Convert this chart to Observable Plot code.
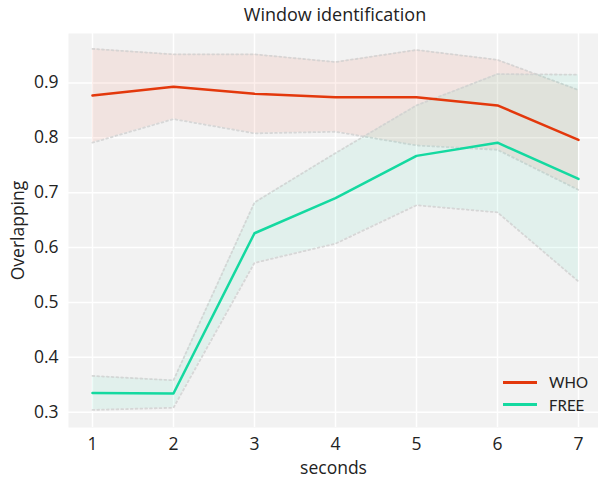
<!DOCTYPE html>
<html><head><meta charset="utf-8">
<script src="https://cdn.jsdelivr.net/npm/d3@7"></script>
<script src="https://cdn.jsdelivr.net/npm/@observablehq/plot@0.6"></script>
<style>
body{margin:0;background:#fff;font-family:"Open Sans",sans-serif;}
#wrap{position:relative;width:598px;height:479px;overflow:hidden;}
#title{position:absolute;left:68px;width:534px;top:2px;text-align:center;font-size:18px;color:#222;}
#chart{position:absolute;left:0;top:33px;}
#chart svg text{font-size:17.5px;}
#legend{position:absolute;left:503px;top:371px;font-family:Lato,sans-serif;font-size:15px;color:#222;}
#legend div{display:flex;align-items:center;height:22.5px;}
#legend span.sw{display:inline-block;width:34px;height:3px;margin-right:12px;}
</style></head>
<body>
<div id="wrap">
<div id="title">Window identification</div>
<div id="chart"></div>
<div id="legend"></div>
</div>
<script>
const seconds = [1, 2, 3, 4, 5, 6, 7];
const whoMean  = [0.877, 0.893, 0.880, 0.874, 0.874, 0.859, 0.796];
const whoUpper = [0.962, 0.952, 0.952, 0.938, 0.960, 0.942, 0.887];
const whoLower = [0.791, 0.834, 0.808, 0.811, 0.786, 0.778, 0.705];
const freeMean  = [0.335, 0.334, 0.626, 0.690, 0.767, 0.791, 0.725];
const freeUpper = [0.366, 0.358, 0.682, 0.772, 0.859, 0.916, 0.915];
const freeLower = [0.304, 0.308, 0.572, 0.607, 0.677, 0.664, 0.538];
const series = ["WHO", "FREE"];
const colors = ["#e3380c", "#14d9a0"];
const yTicks = [0.3, 0.4, 0.5, 0.6, 0.7, 0.8, 0.9];

const rows = [];
seconds.forEach((s, i) => {
  rows.push({series: "WHO", s, mean: whoMean[i], lo: whoLower[i], hi: whoUpper[i]});
  rows.push({series: "FREE", s, mean: freeMean[i], lo: freeLower[i], hi: freeUpper[i]});
});
const col = {WHO: colors[0], FREE: colors[1]};

const marks = [Plot.frame({fill: "#f2f2f2", stroke: null})];
marks.push(Plot.gridX(seconds, {stroke: "#fff", strokeOpacity: 1, strokeWidth: 1.5}));
marks.push(Plot.gridY(yTicks, {stroke: "#fff", strokeOpacity: 1, strokeWidth: 1.5}));
for (const sName of series) {
  const d = rows.filter(r => r.series === sName);
  marks.push(Plot.areaY(d, {x: "s", y1: "lo", y2: "hi", fill: col[sName], fillOpacity: 0.08}));
  marks.push(Plot.line(d, {x: "s", y: "hi", stroke: "#d0d0d0", strokeWidth: 1.8, strokeDasharray: "1.8,3", strokeOpacity: 0.8}));
  marks.push(Plot.line(d, {x: "s", y: "lo", stroke: "#d0d0d0", strokeWidth: 1.8, strokeDasharray: "1.8,3", strokeOpacity: 0.8}));
}
for (const sName of series) {
  const d = rows.filter(r => r.series === sName);
  marks.push(Plot.line(d, {x: "s", y: "mean", stroke: col[sName], strokeWidth: 2.5}));
}
marks.push(Plot.axisX({ticks: seconds, tickSize: 0, tickPadding: 10, fontSize: 17.5, tickFormat: d3.format("d"), label: "seconds", labelAnchor: "center", labelArrow: "none", labelOffset: 46, color: "#222"}));
marks.push(Plot.axisY({ticks: yTicks, tickSize: 0, tickPadding: 10, fontSize: 17.5, label: "Overlapping", labelAnchor: "center", labelArrow: "none", labelOffset: 57, tickFormat: d3.format(".1f"), color: "#222"}));

const plot = Plot.plot({
  width: 598, height: 446,
  marginLeft: 68, marginRight: 0, marginTop: 0, marginBottom: 52,
  x: {domain: [0.704, 7.247]},
  y: {domain: [0.272, 0.99]},
  style: {fontFamily: "'Open Sans', sans-serif", fontSize: "17.5px", background: "transparent"},
  marks
});
document.getElementById("chart").appendChild(plot);

const leg = document.getElementById("legend");
series.forEach((s, i) => {
  const row = document.createElement("div");
  row.innerHTML = `<span class="sw" style="background:${colors[i]}"></span>${s}`;
  leg.appendChild(row);
});
</script>
</body></html>
